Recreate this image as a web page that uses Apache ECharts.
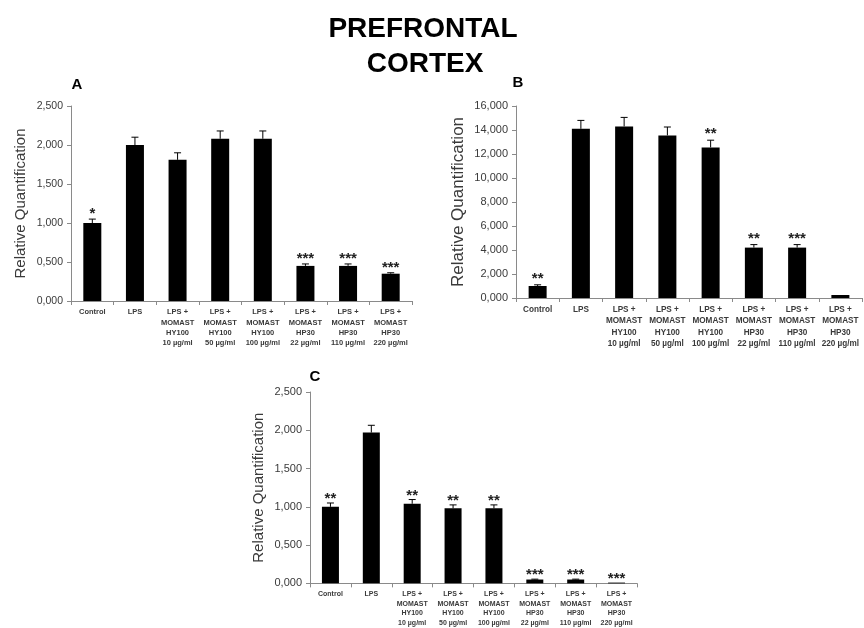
<!DOCTYPE html>
<html>
<head>
<meta charset="utf-8">
<script src="https://cdn.jsdelivr.net/npm/echarts@6/dist/echarts.min.js"></script>
<style>
  html, body { margin: 0; padding: 0; background: #fff; }
  #chart { width: 864px; height: 628px; }
</style>
</head>
<body>
<div id="chart"></div>
<script>
// Treatment groups shared by all three panels
const categories = [
  'Control',
  'LPS',
  'LPS +\nMOMAST\nHY100\n10 µg/ml',
  'LPS +\nMOMAST\nHY100\n50 µg/ml',
  'LPS +\nMOMAST\nHY100\n100 µg/ml',
  'LPS +\nMOMAST\nHP30\n22 µg/ml',
  'LPS +\nMOMAST\nHP30\n110 µg/ml',
  'LPS +\nMOMAST\nHP30\n220 µg/ml'
];

// Panel A
const valuesA = [1.00, 2.00, 1.81, 2.08, 2.08, 0.45, 0.45, 0.35];
const errorsA = [0.05, 0.10, 0.09, 0.10, 0.10, 0.025, 0.025, 0.012];
const starsA  = ['*', '', '', '', '', '***', '***', '***'];
const ticksA  = { max: 2.5, interval: 0.5 };

// Panel B
const valuesB = [1.0, 14.1, 14.3, 13.55, 12.55, 4.2, 4.2, 0.25];
const errorsB = [0.1, 0.7, 0.75, 0.7, 0.6, 0.25, 0.25, 0];
const starsB  = ['**', '', '', '', '**', '**', '***', ''];
const ticksB  = { max: 16, interval: 2 };

// Panel C
const valuesC = [1.00, 1.97, 1.04, 0.98, 0.98, 0.05, 0.05, 0.01];
const errorsC = [0.05, 0.095, 0.055, 0.045, 0.045, 0.005, 0.005, 0];
const starsC  = ['**', '', '**', '**', '**', '***', '***', '***'];
const ticksC  = { max: 2.5, interval: 0.5 };

const AXIS_COLOR = '#8a8a8a';
const TEXT_COLOR = '#3a3a3a';
const FONT = '"Liberation Sans", Arial, sans-serif';

const panels = [
  { values: valuesA, errors: errorsA, stars: starsA, ticks: ticksA,
    grid: { left: 71, top: 106, width: 341, height: 195 },
    barWidth: 18, nameGap: 43, nameSize: 15, labelSize: 7.5, tickSize: 10.5, starGap: 5 },
  { values: valuesB, errors: errorsB, stars: starsB, ticks: ticksB,
    grid: { left: 516, top: 106, width: 346, height: 192 },
    barWidth: 18, nameGap: 49, nameSize: 17, labelSize: 8.2, tickSize: 11, starGap: 6 },
  { values: valuesC, errors: errorsC, stars: starsC, ticks: ticksC,
    grid: { left: 310, top: 392, width: 327, height: 192 },
    barWidth: 17, nameGap: 44, nameSize: 15, labelSize: 7, tickSize: 11, starGap: 4 }
];

const fmt = v => v.toFixed(3).replace('.', ',');

const grids = [], xAxes = [], yAxes = [], series = [];

panels.forEach((p, i) => {
  grids.push(Object.assign({ containLabel: false }, p.grid));
  xAxes.push({
    type: 'category',
    gridIndex: i,
    data: categories,
    boundaryGap: true,
    axisLine: { lineStyle: { color: AXIS_COLOR, width: 1 } },
    axisTick: { show: true, length: 4, lineStyle: { color: AXIS_COLOR } },
    axisLabel: {
      interval: 0,
      margin: 6,
      fontFamily: FONT,
      fontSize: p.labelSize,
      fontWeight: 'bold',
      lineHeight: p.labelSize * 1.38,
      color: TEXT_COLOR
    }
  });
  yAxes.push({
    type: 'value',
    gridIndex: i,
    min: 0,
    max: p.ticks.max,
    interval: p.ticks.interval,
    name: 'Relative Quantification',
    nameLocation: 'middle',
    nameRotate: 90,
    nameGap: p.nameGap,
    nameTextStyle: { fontFamily: FONT, fontSize: p.nameSize, color: TEXT_COLOR },
    axisLine: { show: true, lineStyle: { color: AXIS_COLOR, width: 1 } },
    axisTick: { show: true, length: 4, lineStyle: { color: AXIS_COLOR } },
    splitLine: { show: false },
    axisLabel: {
      formatter: fmt,
      margin: 8,
      fontFamily: FONT,
      fontSize: p.tickSize,
      color: TEXT_COLOR
    }
  });
  series.push({
    type: 'bar',
    xAxisIndex: i,
    yAxisIndex: i,
    data: p.values,
    barWidth: p.barWidth,
    itemStyle: { color: '#000' },
    silent: true,
    animation: false
  });
  // Upper error whiskers with significance stars above them
  series.push({
    type: 'custom',
    xAxisIndex: i,
    yAxisIndex: i,
    data: p.values.map((v, k) => [k, v, p.errors[k]]),
    silent: true,
    animation: false,
    z: 3,
    renderItem: (params, api) => {
      const k = api.value(0);
      const v = api.value(1);
      const e = api.value(2);
      const base = api.coord([k, v]);
      const cap = api.coord([k, v + e]);
      const children = [];
      if (e > 0) {
        children.push({
          type: 'line',
          shape: { x1: base[0], y1: base[1], x2: cap[0], y2: cap[1] },
          style: { stroke: '#000', lineWidth: 1 }
        });
        children.push({
          type: 'line',
          shape: { x1: cap[0] - 3.5, y1: cap[1], x2: cap[0] + 3.5, y2: cap[1] },
          style: { stroke: '#000', lineWidth: 1 }
        });
      }
      const s = p.stars[k];
      if (s) {
        children.push({
          type: 'text',
          style: {
            text: s,
            x: cap[0],
            y: cap[1] - p.starGap,
            align: 'center',
            verticalAlign: 'middle',
            font: 'bold 15px ' + FONT,
            fill: '#222'
          }
        });
      }
      return { type: 'group', children };
    }
  });
});

const chart = echarts.init(document.getElementById('chart'), null, { renderer: 'canvas' });
chart.setOption({
  backgroundColor: '#fff',
  animation: false,
  grid: grids,
  xAxis: xAxes,
  yAxis: yAxes,
  series: series,
  graphic: [
    { type: 'text', x: 423, y: 29, style: { text: 'PREFRONTAL', align: 'center', verticalAlign: 'middle', font: 'bold 28px ' + FONT, fill: '#000' } },
    { type: 'text', x: 425, y: 64.5, style: { text: 'CORTEX', align: 'center', verticalAlign: 'middle', font: 'bold 28px ' + FONT, fill: '#000' } },
    { type: 'text', x: 77, y: 85, style: { text: 'A', align: 'center', verticalAlign: 'middle', font: 'bold 15px ' + FONT, fill: '#000' } },
    { type: 'text', x: 518, y: 83, style: { text: 'B', align: 'center', verticalAlign: 'middle', font: 'bold 15px ' + FONT, fill: '#000' } },
    { type: 'text', x: 315, y: 377, style: { text: 'C', align: 'center', verticalAlign: 'middle', font: 'bold 15px ' + FONT, fill: '#000' } }
  ]
});
</script>
</body>
</html>
